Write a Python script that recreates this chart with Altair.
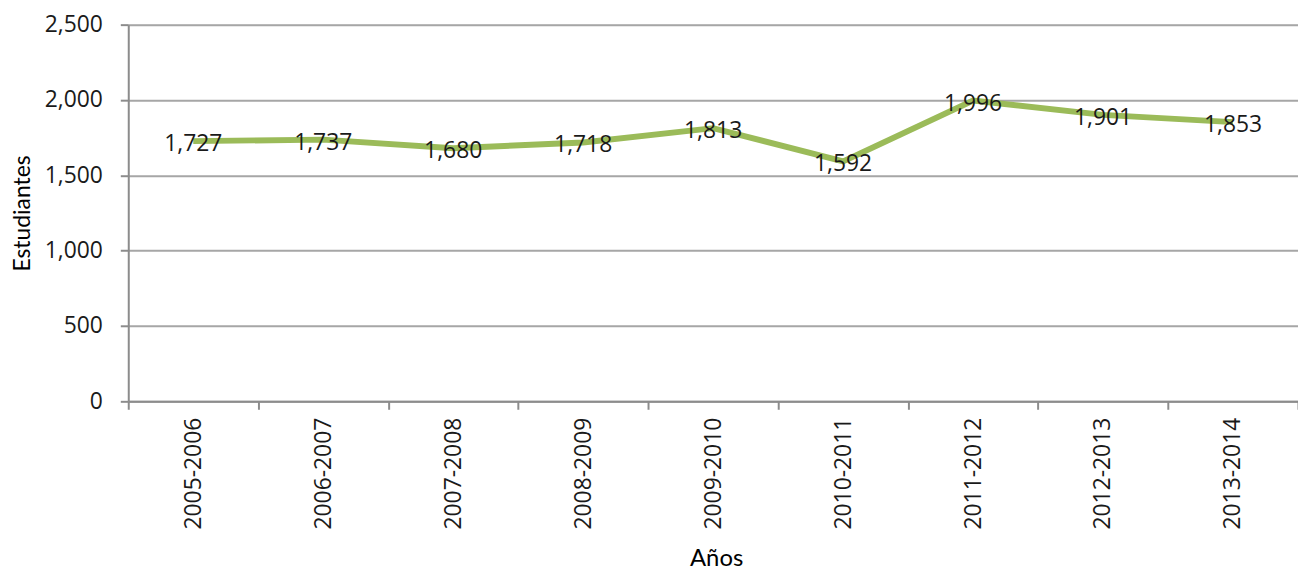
import altair as alt
import pandas as pd

years = ["2005-2006", "2006-2007", "2007-2008", "2008-2009", "2009-2010",
         "2010-2011", "2011-2012", "2012-2013", "2013-2014"]
students = [1727, 1737, 1680, 1718, 1813, 1592, 1996, 1901, 1853]

df = pd.DataFrame({"Años": years, "Estudiantes": students})

W, H = 1177, 379
TICK_FONT = "Open Sans"
TITLE_FONT = "Lato"

x = alt.X("Años:N", sort=years, bandPosition=0.5,
          scale=alt.Scale(type="band", paddingInner=0, paddingOuter=0),
          axis=alt.Axis(title="Años", labelAngle=-90, tickBand="extent",
                        tickSize=8, labelPadding=8, grid=False,
                        domainColor="#8c8c8c", domainWidth=2,
                        tickColor="#8c8c8c", tickWidth=2,
                        labelFont=TICK_FONT, labelFontSize=23, labelColor="#1a1a1a",
                        titleFont=TITLE_FONT, titleFontSize=24, titleFontWeight="normal",
                        titleColor="#000000", titleY=158, titleX=W / 2 + 3,
                        titleBaseline="middle", titleAlign="center"))
y = alt.Y("Estudiantes:Q",
          scale=alt.Scale(domain=[0, 2500], nice=False),
          axis=alt.Axis(title="Estudiantes", values=[0, 500, 1000, 1500, 2000, 2500],
                        format=",d", tickSize=8, labelPadding=18,
                        domainColor="#8c8c8c", domainWidth=2,
                        tickColor="#8c8c8c", tickWidth=2,
                        gridColor="#a6a6a6", gridWidth=2,
                        labelFont=TICK_FONT, labelFontSize=23, labelColor="#1a1a1a",
                        titleFont=TITLE_FONT, titleFontSize=23, titleFontWeight="normal",
                        titleColor="#000000", titleAngle=-90, titleX=-106, titleY=H / 2,
                        titleBaseline="middle", titleAlign="center"))

base = alt.Chart(df)
line = base.mark_line(color="#9BBB59", strokeWidth=6).encode(x=x, y=y)
labels = base.mark_text(font=TICK_FONT, fontSize=23, color="#1a1a1a",
                        baseline="middle", dy=3).encode(
    x=alt.X("Años:N", sort=years, bandPosition=0.5),
    y="Estudiantes:Q",
    text=alt.Text("Estudiantes:Q", format=",d"))

chart = (line + labels).properties(
    width=W, height=H,
    autosize=alt.AutoSizeParams(type="none"),
    padding={"left": 121, "top": 15, "right": 0, "bottom": 172},
).configure_view(stroke=None).configure(background="white")

chart.save("out.html", embed_options={"renderer": "svg", "actions": False})
